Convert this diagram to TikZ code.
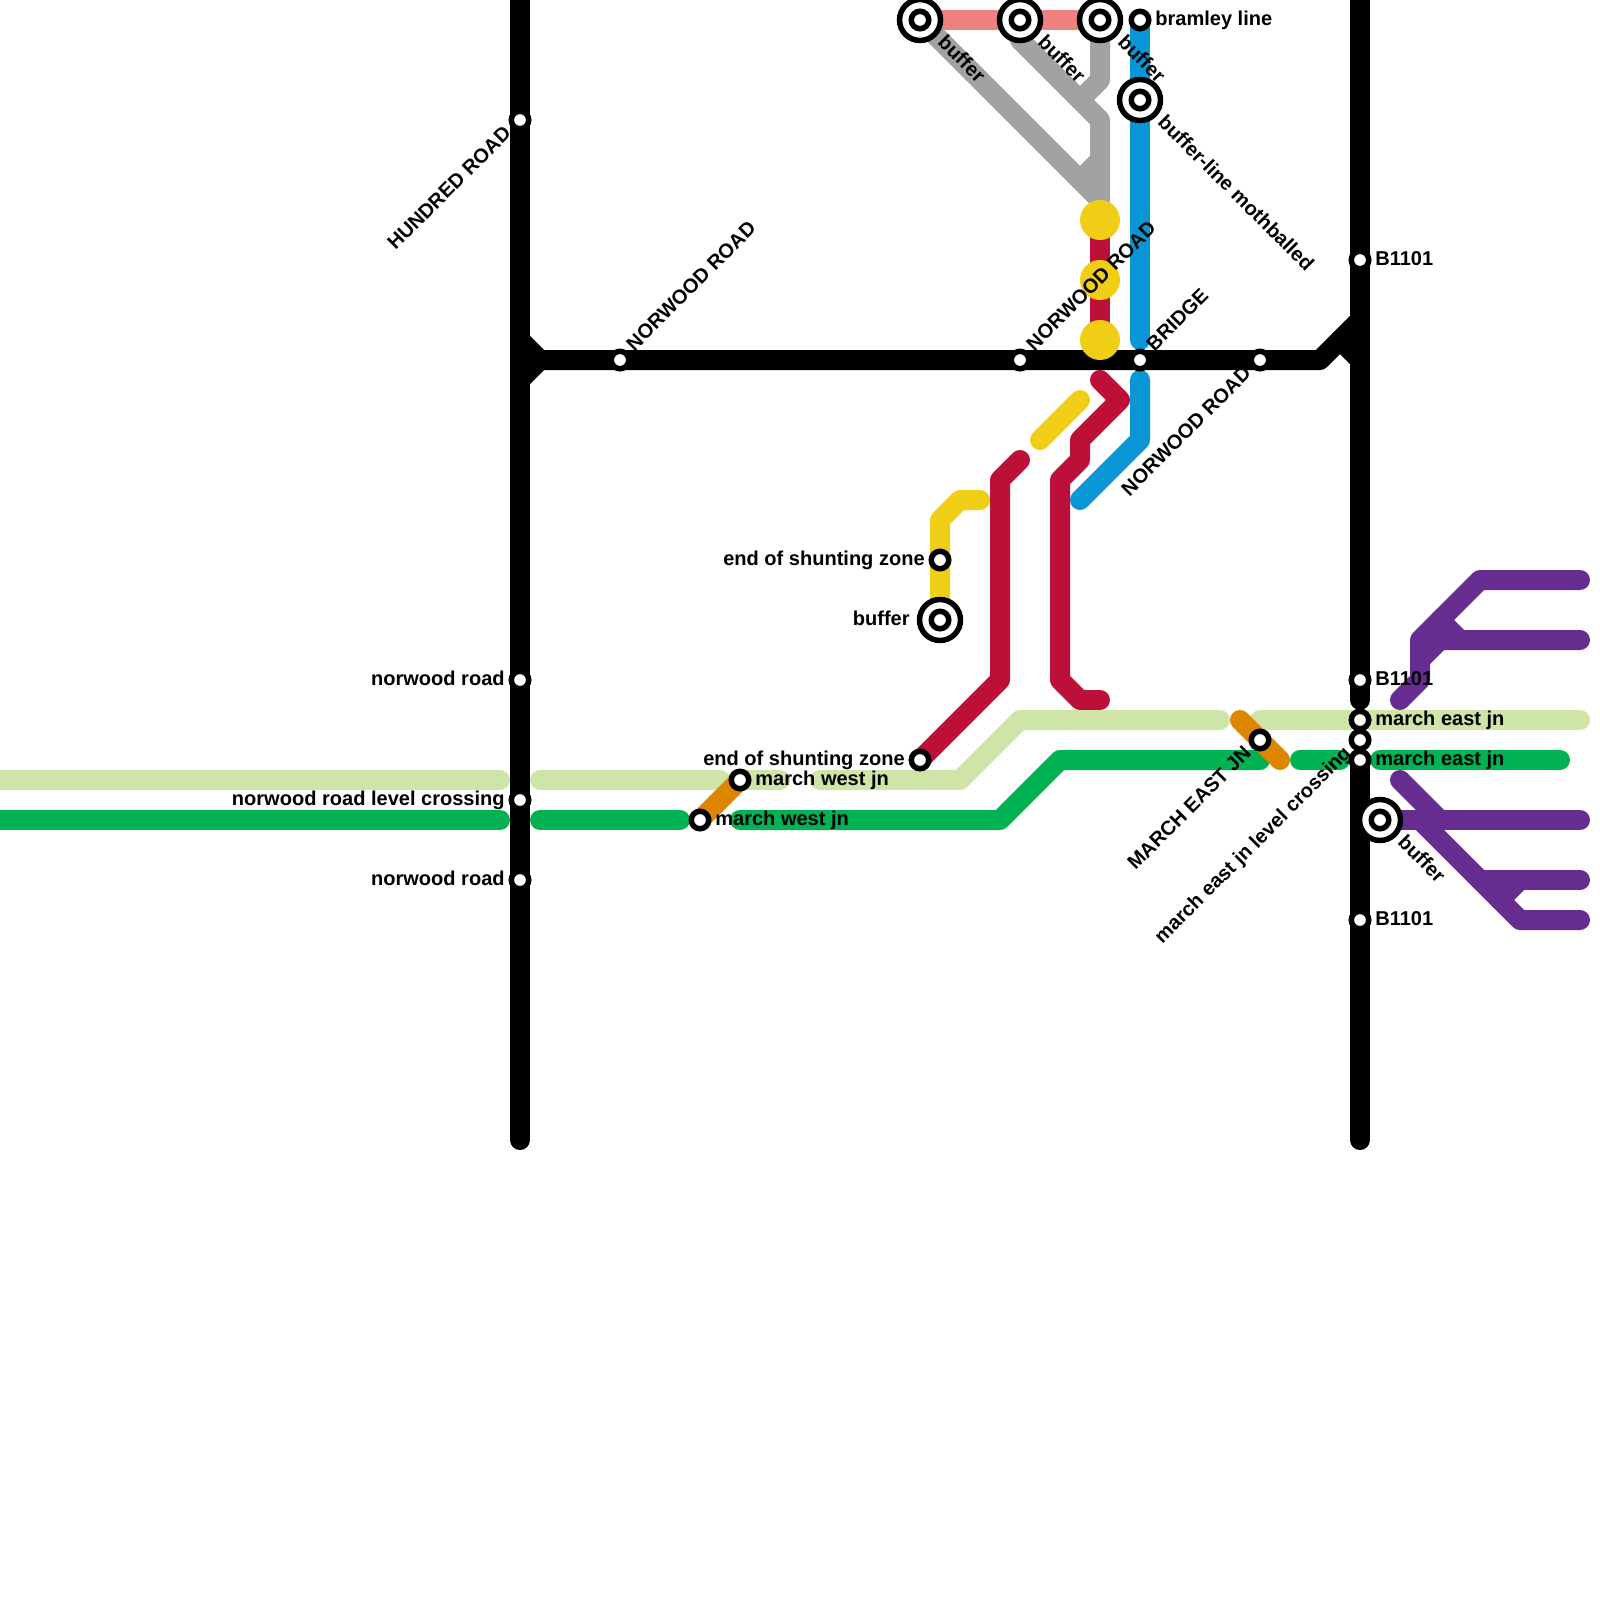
\documentclass[tikz,border=0pt]{standalone}
\usepackage{fontspec}
\setmainfont{Liberation Sans}
\definecolor{pinkline}{HTML}{EF8080}
\definecolor{greyline}{HTML}{A2A2A2}
\definecolor{yellowline}{HTML}{F0CE15}
\definecolor{redline}{HTML}{BD1038}
\definecolor{blueline}{HTML}{0896D7}
\definecolor{paleline}{HTML}{CFE4A7}
\definecolor{greenline}{HTML}{00B251}
\definecolor{orangeline}{HTML}{DF8600}
\definecolor{purpleline}{HTML}{662C90}
\tikzset{
	track/.style={line width=0.4cm,line cap=round,line join=round},
	stn/.style={circle,draw=black,fill=white,line width=0.11cm,minimum size=0.35cm,inner sep=0pt},
	bufring/.style={circle,draw=black,fill=white,line width=0.11cm,minimum size=0.82cm,inner sep=0pt},
	lab/.style={font=\bfseries\fontsize{11.4}{11.4}\selectfont,inner sep=0pt,text=black},
	yellowdot/.style={circle,fill=yellowline,minimum size=0.8cm,inner sep=0pt}
}
\begin{document}
\begin{tikzpicture}[x=0.02cm,y=-0.02cm]
\path[use as bounding box,clip] (0,0) rectangle (1600,1600);
% places
\foreach \n/\xx/\yy in {
	hundred/520/120,nrdW/520/680,levelW/520/800,nrdS/520/880,
	nrdA/620/360,nrdB/1020/360,bridge/1140/360,nrdC/1260/360,
	bE/1360/260,bF/1360/680,meA/1360/720,levelE/1360/740,meB/1360/760,bG/1360/920,
	bufA/920/20,bufB/1020/20,bufC/1100/20,bufD/1140/100,bufE/940/620,bufF/1380/820,
	bramley/1140/20,shuntA/940/560,shuntB/920/760,mwA/740/780,mwB/700/820,mejn/1260/740,
	wTop/520/0,wBot/520/1140,eTop/1360/0,eCut/1360/700,eBot/1360/1140,
	wJa/520/340,wJb/520/380,eJa/1360/320,eJb/1340/340,eJc/1360/360,
	dotA/1100/220,dotB/1100/280,dotC/1100/340,
	palA/0/780,palB/500/780,palC/540/780,palD/720/780,palE/780/780,palF/820/780,palG/1220/720,palH/1260/720,palI/1580/720,
	grnA/0/820,grnB/500/820,grnC/540/820,grnD/680/820,grnE/740/820,grnF/1260/760,grnG/1300/760,grnH/1340/760,grnI/1380/760,grnJ/1560/760,
	orgA/1240/720,orgB/1280/760,
	bluA/1140/340,bluB/1140/380,bluC/1080/500,
	redA/1100/380,redB/1100/700,redC/1020/460,
	yelA/980/500,yelB/1040/440,yelC/1080/400,
	greyA/1100/200,
	purA/1400/700,purB/1580/580,purC/1580/640,purD/1400/780,purE/1580/820,purF/1420/820,purG/1580/920,purH/1580/880}
	\coordinate (\n) at (\xx,\yy);
% lines
\draw[track,pinkline,line cap=butt] (bufA) -- (bufC);
\draw[track,greyline] (bufA) -- (greyA);
\draw[track,greyline] (bufB) -- ++(0,20) -- ++(80,80) -- (greyA);
\draw[track,greyline] (bufC) -- ++(0,60) -- ++(-20,20);
\draw[track,greyline] (1100,160) -- ++(-20,20);
\draw[track,blueline] (bramley) -- (bluA);
\draw[track,blueline] (bluB) -- ++(0,60) -- (bluC);
\draw[track,redline] (dotA) -- (dotC);
\draw[track,redline] (redA) -- ++(20,20) -- ++(-40,40) -- ++(0,20) -- ++(-20,20) -- ++(0,200) -- ++(20,20) -- (redB);
\draw[track,redline] (redC) -- ++(-20,20) -- ++(0,200) -- (shuntB);
\draw[track,yellowline] (yelB) -- (yelC);
\draw[track,yellowline] (bufE) -- ++(0,-100) -- ++(20,-20) -- (yelA);
\draw[track,paleline] (palA) -- (palB);
\draw[track,paleline] (palC) -- (palD);
\draw[track,paleline] (mwA) -- (palE);
\draw[track,paleline] (palF) -- ++(140,0) -- ++(60,-60) -- (palG);
\draw[track,paleline] (palH) -- (palI);
\draw[track,greenline] (grnA) -- (grnB);
\draw[track,greenline] (grnC) -- (grnD);
\draw[track,greenline] (grnE) -- ++(260,0) -- ++(60,-60) -- (grnF);
\draw[track,greenline] (grnG) -- (grnH);
\draw[track,greenline] (grnI) -- (grnJ);
\draw[track,orangeline] (mwB) -- (mwA);
\draw[track,orangeline] (orgA) -- (orgB);
\draw[track,purpleline] (purA) -- ++(20,-20) -- ++(0,-40) -- ++(60,-60) -- (purB);
\draw[track,purpleline] (1420,660) -- ++(20,-20) -- (purC);
\draw[track,purpleline] (1440,620) -- ++(20,20);
\draw[track,purpleline] (purD) -- ++(40,40);
\draw[track,purpleline] (bufF) -- (purE);
\draw[track,purpleline] (purF) -- ++(100,100) -- (purG);
\draw[track,purpleline] (1480,880) -- (purH);
\draw[track,purpleline] (1500,900) -- ++(20,-20);
\draw[track,black] (wTop) -- (wBot);
\draw[track,black] (eTop) -- (eCut);
\draw[track,black] (meB) -- (eBot);
\draw[track,black] (wJa) -- ++(20,20) -- ++(780,0) -- (eJa);
\draw[track,black] (wJb) -- ++(20,-20);
\draw[track,black] (eJb) -- (eJc);
\foreach \n in {dotA,dotB,dotC}
	\node[yellowdot] (y\n) at (\n) {};
% stations
\foreach \n in {bufA,bufB,bufC,bufD,bufE,bufF}
	\node[bufring] (r\n) at (\n) {};
\foreach \n in {hundred,nrdW,levelW,nrdS,nrdA,nrdB,bridge,nrdC,bE,bF,meA,levelE,meB,bG,bufA,bufB,bufC,bufD,bufE,bufF,bramley,shuntA,shuntB,mwA,mwB,mejn}
	\node[stn] (s\n) at (\n) {};
% labels
\foreach \n/\ang/\anc/\dx/\dy/\txt in {
	hundred/45/mid east/-11/11/HUNDRED ROAD,
	nrdA/45/mid west/11/-11/NORWOOD ROAD,
	nrdB/45/mid west/11/-11/NORWOOD ROAD,
	bridge/45/mid west/11/-11/BRIDGE,
	nrdC/45/mid east/-11/11/NORWOOD ROAD,
	mejn/45/mid east/-11/11/MARCH EAST JN,
	levelE/45/mid east/-11/11/march east jn level crossing,
	bufA/-45/mid west/20/20/buffer,
	bufB/-45/mid west/20/20/buffer,
	bufC/-45/mid west/20/20/buffer,
	bufD/-45/mid west/20/20/buffer-line mothballed,
	bufF/-45/mid west/20/20/buffer,
	bufE/0/mid east/-30/1/buffer,
	shuntA/0/mid east/-15/1/end of shunting zone,
	shuntB/0/mid east/-15/1/end of shunting zone,
	nrdW/0/mid east/-15/1/norwood road,
	levelW/0/mid east/-15/1/norwood road level crossing,
	nrdS/0/mid east/-15/1/norwood road,
	bramley/0/mid west/15/1/bramley line,
	bE/0/mid west/15/1/B1101,
	bF/0/mid west/15/1/B1101,
	bG/0/mid west/15/1/B1101,
	meA/0/mid west/15/1/march east jn,
	meB/0/mid west/15/1/march east jn,
	mwA/0/mid west/15/1/march west jn,
	mwB/0/mid west/15/1/march west jn}
	\node[lab,rotate=\ang,anchor=\anc] (t\n) at ([shift={(\dx,\dy)}]\n) {\txt};
\end{tikzpicture}
\end{document}
